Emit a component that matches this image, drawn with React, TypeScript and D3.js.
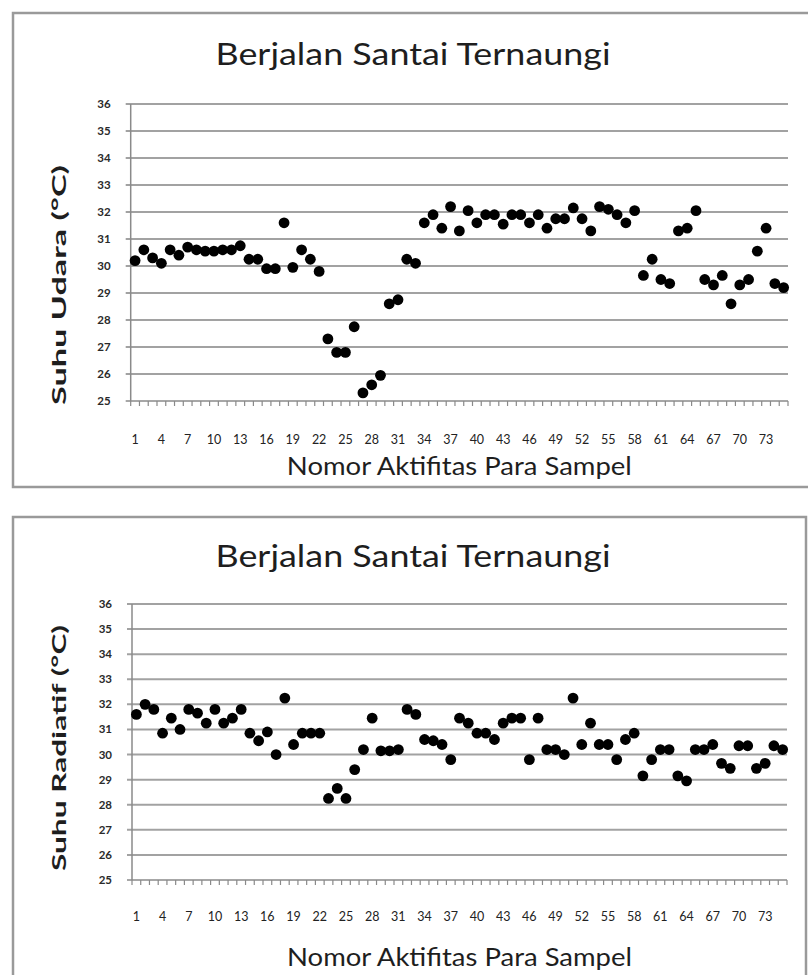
import * as d3 from "d3";
import React from "react";

// categories 1..75 (sample activity number)
const categories = d3.range(1, 76);
const xTickLabels = [1, 4, 7, 10, 13, 16, 19, 22, 25, 28, 31, 34, 37, 40, 43, 46, 49, 52, 55, 58, 61, 64, 67, 70, 73];
const yTicks = [25, 26, 27, 28, 29, 30, 31, 32, 33, 34, 35, 36];

const suhuUdara = [
  30.2, 30.6, 30.3, 30.1, 30.6, 30.4, 30.7, 30.6, 30.55, 30.55, 30.6, 30.6, 30.75, 30.25, 30.25,
  29.9, 29.9, 31.6, 29.95, 30.6, 30.25, 29.8, 27.3, 26.8, 26.8, 27.75, 25.3, 25.6, 25.95, 28.6,
  28.75, 30.25, 30.1, 31.6, 31.9, 31.4, 32.2, 31.3, 32.05, 31.6, 31.9, 31.9, 31.55, 31.9, 31.9,
  31.6, 31.9, 31.4, 31.75, 31.75, 32.15, 31.75, 31.3, 32.2, 32.1, 31.9, 31.6, 32.05, 29.65, 30.25,
  29.5, 29.35, 31.3, 31.4, 32.05, 29.5, 29.3, 29.65, 28.6, 29.3, 29.5, 30.55, 31.4, 29.35, 29.2,
];

const suhuRadiatif = [
  31.6, 32.0, 31.8, 30.85, 31.45, 31.0, 31.8, 31.65, 31.25, 31.8, 31.25, 31.45, 31.8, 30.85, 30.55,
  30.9, 30.0, 32.25, 30.4, 30.85, 30.85, 30.85, 28.25, 28.65, 28.25, 29.4, 30.2, 31.45, 30.15, 30.15,
  30.2, 31.8, 31.6, 30.6, 30.55, 30.4, 29.8, 31.45, 31.25, 30.85, 30.85, 30.6, 31.25, 31.45, 31.45,
  29.8, 31.45, 30.2, 30.2, 30.0, 32.25, 30.4, 31.25, 30.4, 30.4, 29.8, 30.6, 30.85, 29.15, 29.8,
  30.2, 30.2, 29.15, 28.95, 30.2, 30.2, 30.4, 29.65, 29.45, 30.35, 30.35, 29.45, 29.65, 30.35, 30.2,
];

const chartTitle = "Berjalan Santai Ternaungi";
const xTitle = "Nomor Aktifitas Para Sampel";

type Layout = {
  frame: [number, number, number, number];
  plot: { left: number; right: number; top: number; bottom: number };
  titleY: number;
  xLabelY: number;
  xTitleY: number;
  yTitleCenter: number;
  yTitleLen: number;
};

function ScatterPanel({ values, yTitle, layout }: { values: number[]; yTitle: string; layout: Layout }) {
  const { plot, frame } = layout;
  const x = d3.scaleBand<number>().domain(categories).range([plot.left, plot.right]).padding(0);
  const y = d3.scaleLinear().domain([25, 36]).range([plot.bottom, plot.top]);
  const bw = x.bandwidth();
  const font = "Lato, 'Open Sans', sans-serif";

  return (
    <g>
      <rect x={frame[0]} y={frame[1]} width={frame[2]} height={frame[3]} fill="#fff" stroke="#9a9a9a" strokeWidth={2.5} />
      <text x={413} y={layout.titleY} textAnchor="middle" fontFamily={font} fontSize={30} fill="#1e1e1e"
        textLength={395} lengthAdjust="spacingAndGlyphs">{chartTitle}</text>

      {/* gridlines + y ticks */}
      {yTicks.map((t) => (
        <g key={t}>
          {t > 25 && (
            <line x1={plot.left - 5} x2={plot.right} y1={y(t)} y2={y(t)} stroke="#a2a2a2" strokeWidth={2} />
          )}
          <text x={plot.left - 20} y={y(t) + 4} textAnchor="end" fontFamily={font} fontWeight="bold" fontSize={11.5} fill="#2a2a2a">
            {t}
          </text>
        </g>
      ))}

      {/* axes */}
      <line x1={plot.left} x2={plot.left} y1={plot.top} y2={plot.bottom} stroke="#8a8a8a" strokeWidth={1.5} />
      <line x1={plot.left - 5} x2={plot.right} y1={plot.bottom} y2={plot.bottom} stroke="#8a8a8a" strokeWidth={1.5} />
      {categories.map((c) => (
        <line key={c} x1={x(c)!} x2={x(c)!} y1={plot.bottom} y2={plot.bottom + 5} stroke="#8a8a8a" strokeWidth={1.2} />
      ))}
      <line x1={plot.right} x2={plot.right} y1={plot.bottom} y2={plot.bottom + 5} stroke="#8a8a8a" strokeWidth={1.2} />

      {xTickLabels.map((c) => (
        <text key={c} x={x(c)! + bw / 2} y={layout.xLabelY} textAnchor="middle" fontFamily={font} fontSize={12.5} fill="#222">
          {c}
        </text>
      ))}

      <text x={(plot.left + plot.right) / 2} y={layout.xTitleY} textAnchor="middle" fontFamily={font} fontSize={25}
        fill="#1e1e1e" textLength={345} lengthAdjust="spacingAndGlyphs">{xTitle}</text>

      <text transform={`translate(66,${layout.yTitleCenter}) rotate(-90)`} textAnchor="middle" fontFamily={font}
        fontWeight="bold" fontSize={19} fill="#1e1e1e" textLength={layout.yTitleLen} lengthAdjust="spacingAndGlyphs">
        {yTitle}
      </text>

      {values.map((v, i) => (
        <circle key={i} cx={x(categories[i])! + bw / 2} cy={y(v)} r={5.4} fill="#000" />
      ))}
    </g>
  );
}

const topLayout: Layout = {
  frame: [13, 13, 800, 474],
  plot: { left: 130.7, right: 788, top: 104, bottom: 401 },
  titleY: 65,
  xLabelY: 444,
  xTitleY: 475,
  yTitleCenter: 285,
  yTitleLen: 240,
};

const bottomLayout: Layout = {
  frame: [13, 517, 793, 470],
  plot: { left: 132, right: 787, top: 604, bottom: 880 },
  titleY: 567,
  xLabelY: 921,
  xTitleY: 966,
  yTitleCenter: 748,
  yTitleLen: 246,
};

export default function App() {
  return (
    <svg width={808} height={975} viewBox="0 0 808 975"
      style={{ position: "absolute", left: 0, top: 0, background: "#fff" }}>
      <rect width={808} height={975} fill="#fff" />
      <ScatterPanel values={suhuUdara} yTitle="Suhu Udara (°C)" layout={topLayout} />
      <ScatterPanel values={suhuRadiatif} yTitle="Suhu Radiatif (°C)" layout={bottomLayout} />
    </svg>
  );
}
